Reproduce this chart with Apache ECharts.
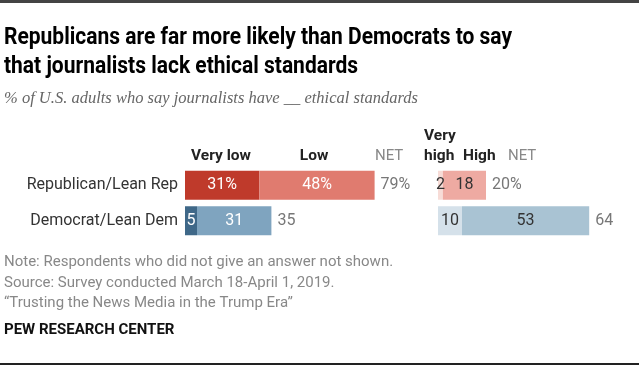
<!DOCTYPE html>
<html><head><meta charset="utf-8">
<script src="https://cdn.jsdelivr.net/npm/echarts@6/dist/echarts.min.js"></script>
<style>html,body{margin:0;padding:0;background:#fff}#c{width:639px;height:369px}</style>
</head><body><div id="c"></div>
<script>
var categories = ['Republican/Lean Rep', 'Democrat/Lean Dem'];
var veryLow = [31, 5];
var low = [48, 31];
var netLow = [79, 35];
var veryHigh = [2, 10];
var high = [18, 53];
var netHigh = [20, 64];

var B = 'Roboto, "Liberation Sans", sans-serif';
var titleFont = 'bold 23px Roboto, "Liberation Sans", sans-serif';
var subFont = 'italic 16px "Liberation Serif", "DejaVu Serif", serif';
var titleText = 'Republicans are far more likely than Democrats to say\nthat journalists lack ethical standards';
var subText = '% of U.S. adults who say journalists have __ ethical standards';

var mctx = document.createElement('canvas').getContext('2d');
function w(font, t) { mctx.font = font; return mctx.measureText(t).width; }
var titleScale = 508 / w(titleFont, 'Republicans are far more likely than Democrats to say');
var subScale = 414 / w(subFont, subText);

var chart = echarts.init(document.getElementById('c'), null, {renderer: 'canvas'});

function seg(name, data, xi, colors, labelColor, pct) {
  return {
    name: name, type: 'bar', stack: 's' + xi, xAxisIndex: xi, yAxisIndex: xi,
    barWidth: 29, silent: true,
    data: data.map(function (v, i) { return {value: v, itemStyle: {color: colors[i]}}; }),
    label: {show: true, position: 'inside', color: labelColor, fontFamily: B, fontSize: 16,
      formatter: function (p) { return (pct && p.dataIndex === 0) ? p.value + '%' : String(p.value); }}
  };
}
function netSeries(xi, netArr) {
  return {
    type: 'bar', stack: 's' + xi, xAxisIndex: xi, yAxisIndex: xi, barWidth: 29, silent: true,
    data: netArr.map(function () { return 0; }),
    itemStyle: {color: 'transparent'},
    label: {show: true, position: 'right', distance: 6, color: '#777', fontFamily: B, fontSize: 16,
      formatter: function (p) { return p.dataIndex === 0 ? netArr[0] + '%' : String(netArr[p.dataIndex]); }}
  };
}

var option = {
  animation: false,
  grid: [
    {left: 185, top: 167.5, width: 192, height: 71},
    {left: 438, top: 167.5, width: 192, height: 71}
  ],
  xAxis: [
    {gridIndex: 0, type: 'value', min: 0, max: 80, show: false},
    {gridIndex: 1, type: 'value', min: 0, max: 80, show: false}
  ],
  yAxis: [
    {gridIndex: 0, type: 'category', data: categories, inverse: true,
      axisLine: {show: false}, axisTick: {show: false},
      axisLabel: {color: '#333', fontFamily: B, fontSize: 16, margin: 7}},
    {gridIndex: 1, type: 'category', data: categories, inverse: true, show: false}
  ],
  series: [
    seg('Very low', veryLow, 0, ['#bf3a2b', '#3f6888'], '#fff', true),
    seg('Low', low, 0, ['#e07b6f', '#7fa4bf'], '#fff', true),
    netSeries(0, netLow),
    seg('Very high', veryHigh, 1, ['#f7dcd7', '#d5e1ea'], '#333', false),
    seg('High', high, 1, ['#eeaaa2', '#a9c3d3'], '#333', false),
    netSeries(1, netHigh)
  ],
  graphic: [
    {type: 'rect', shape: {x: 0, y: 0, width: 639, height: 3}, style: {fill: '#444'}},
    {type: 'rect', shape: {x: 0, y: 363, width: 639, height: 2}, style: {fill: '#222'}},
    {type: 'text', x: 4, y: 24, scaleX: titleScale, style: {text: titleText,
      font: titleFont, fill: '#000', lineHeight: 29}},
    {type: 'text', x: 4, y: 91, scaleX: subScale, style: {text: subText,
      font: subFont, fill: '#666'}},
    {type: 'text', x: 221, y: 156, style: {text: 'Very low', font: 'bold 15.5px ' + B, fill: '#222', align: 'center', verticalAlign: 'middle'}},
    {type: 'text', x: 314, y: 156, style: {text: 'Low', font: 'bold 15.5px ' + B, fill: '#222', align: 'center', verticalAlign: 'middle'}},
    {type: 'text', x: 375, y: 156, style: {text: 'NET', font: '15px ' + B, fill: '#888', verticalAlign: 'middle'}},
    {type: 'text', x: 424, y: 136, style: {text: 'Very', font: 'bold 15.5px ' + B, fill: '#222', verticalAlign: 'middle'}},
    {type: 'text', x: 424, y: 156, style: {text: 'high', font: 'bold 15.5px ' + B, fill: '#222', verticalAlign: 'middle'}},
    {type: 'text', x: 463, y: 156, style: {text: 'High', font: 'bold 15.5px ' + B, fill: '#222', verticalAlign: 'middle'}},
    {type: 'text', x: 508, y: 156, style: {text: 'NET', font: '15px ' + B, fill: '#888', verticalAlign: 'middle'}},
    {type: 'text', x: 4, y: 252, style: {text: 'Note: Respondents who did not give an answer not shown.\nSource: Survey conducted March 18-April 1, 2019.\n\u201cTrusting the News Media in the Trump Era\u201d',
      font: '15px ' + B, fill: '#888', lineHeight: 20.5}},
    {type: 'text', x: 4, y: 323, style: {text: 'PEW RESEARCH CENTER', font: 'bold 15px ' + B, fill: '#111'}}
  ]
};
chart.setOption(option);
</script></body></html>
